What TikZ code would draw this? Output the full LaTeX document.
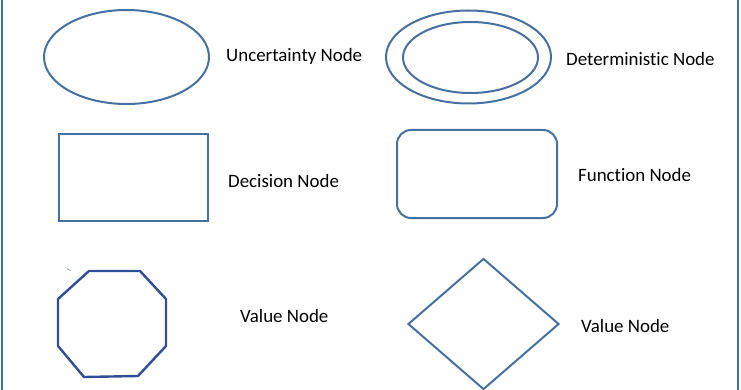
\documentclass[tikz,border=0pt]{standalone}
\usepackage{fontspec}
\setmainfont[Ligatures=NoCommon]{Carlito}
\usepackage{xcolor}
\usetikzlibrary{shapes.geometric}

\definecolor{shapeblue}{RGB}{70,112,160}
\definecolor{octblue}{RGB}{47,78,150}
\definecolor{frameblue}{RGB}{65,113,156}

\tikzset{
  shapeline/.style={draw=shapeblue, line width=2pt},
  legendtext/.style={anchor=west, inner sep=0pt, font=\fontsize{18.9}{22}\selectfont},
}

\begin{document}
\begin{tikzpicture}[x=1pt, y=-1pt]
\useasboundingbox (0,0) rectangle (741,390);
% frame
\draw[frameblue, line width=2.2pt] (1.6,0) -- (1.6,390);
\draw[frameblue, line width=2.2pt] (738,0) -- (738,390);
% Uncertainty
\node[shapeline, ellipse, minimum width=165pt, minimum height=94pt, inner sep=0pt] (uncert) at (126.5,57) {};
\node[legendtext] (uncertlbl) at (226,56) {Uncertainty Node};
% Deterministic
\node[shapeline, ellipse, minimum width=165pt, minimum height=93pt, inner sep=0pt] (detout) at (468.5,57) {};
\node[shapeline, ellipse, minimum width=135pt, minimum height=71pt, inner sep=0pt] (detin) at (470.5,57.5) {};
\node[legendtext] (detlbl) at (566,59) {Deterministic Node};
% Decision
\node[shapeline, rectangle, minimum width=149pt, minimum height=87pt, inner sep=0pt] (decision) at (133.5,177.5) {};
\node[legendtext] (decisionlbl) at (228,181) {Decision Node};
% Function
\node[shapeline, rectangle, rounded corners=14pt, minimum width=160pt, minimum height=88pt, inner sep=0pt] (function) at (477,174) {};
\node[legendtext] (functionlbl) at (578,175) {Function Node};
% Value (octagon)
\draw[octblue, line width=2.4pt, line join=round] (89,271) -- (140,271) -- (166,299) -- (166,346)
  -- (138,376) -- (84,377) -- (58,346) -- (58,299) -- cycle;
\draw[shapeblue!60, line width=0.8pt] (67,268.8) -- (71,270.6);
\node[legendtext] (valuelbl) at (240,316) {Value Node};
% Value (diamond)
\node[shapeline, diamond, minimum width=151pt, minimum height=131pt, inner sep=0pt] (value) at (483.5,324) {};
\node[legendtext] (valuelbltwo) at (581,326) {Value Node};
\end{tikzpicture}
\end{document}
